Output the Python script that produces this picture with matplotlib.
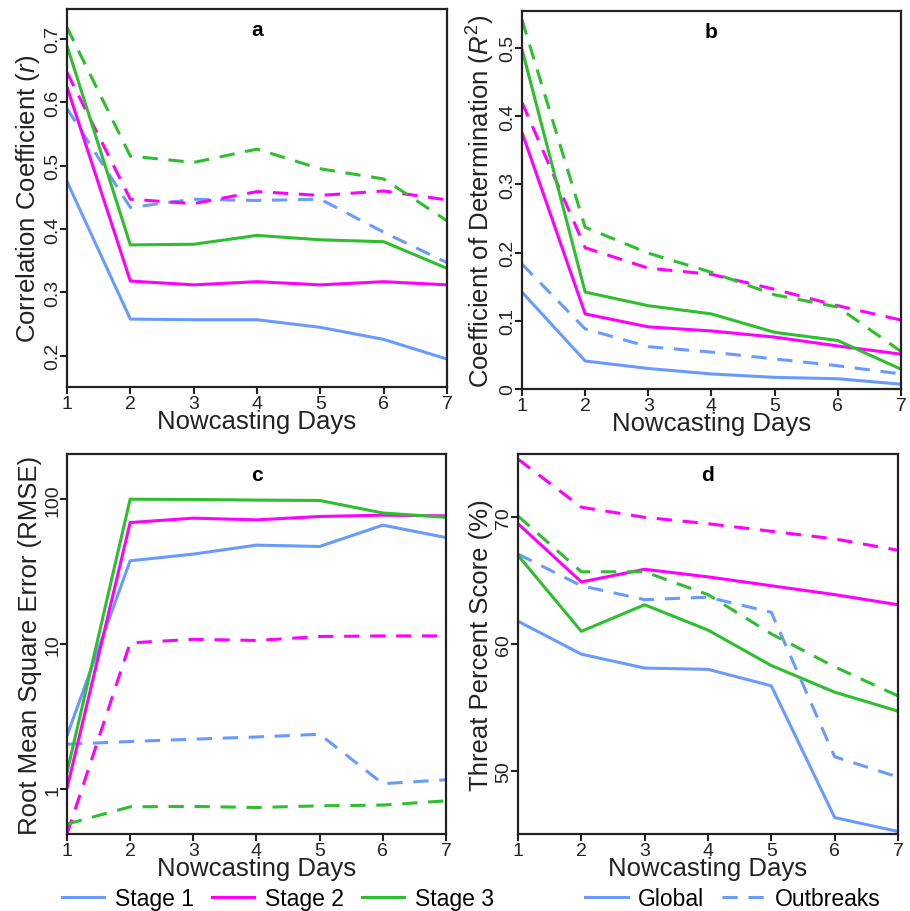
import numpy as np
import matplotlib
matplotlib.use("Agg")
import matplotlib.pyplot as plt
from matplotlib.lines import Line2D
from matplotlib.ticker import NullLocator

plt.rcParams["font.family"] = ["Liberation Sans", "DejaVu Sans"]
plt.rcParams["mathtext.fontset"] = "custom"
plt.rcParams["mathtext.rm"] = "Liberation Sans"
plt.rcParams["mathtext.it"] = "Liberation Sans:italic"

days = [1, 2, 3, 4, 5, 6, 7]
stages = ["Stage 1", "Stage 2", "Stage 3"]

# a: correlation coefficient
r_global = [
    [0.475, 0.258, 0.257, 0.257, 0.245, 0.226, 0.195],
    [0.624, 0.318, 0.312, 0.317, 0.312, 0.317, 0.312],
    [0.689, 0.375, 0.376, 0.390, 0.383, 0.380, 0.338],
]
r_outbreak = [
    [0.590, 0.434, 0.447, 0.445, 0.447, 0.395, 0.347],
    [0.647, 0.447, 0.440, 0.459, 0.453, 0.460, 0.446],
    [0.718, 0.515, 0.505, 0.526, 0.495, 0.479, 0.413],
]

# b: coefficient of determination
r2_global = [
    [0.142, 0.041, 0.030, 0.022, 0.017, 0.015, 0.007],
    [0.376, 0.110, 0.091, 0.085, 0.076, 0.063, 0.051],
    [0.498, 0.142, 0.122, 0.110, 0.083, 0.071, 0.029],
]
r2_outbreak = [
    [0.183, 0.088, 0.062, 0.054, 0.044, 0.034, 0.022],
    [0.420, 0.207, 0.177, 0.168, 0.146, 0.122, 0.101],
    [0.541, 0.237, 0.199, 0.171, 0.138, 0.120, 0.055],
]

# c: RMSE
rmse_global = [
    [2.33, 37.6, 41.8, 48.2, 47.2, 66.2, 54.4],
    [1.01, 69.0, 74.0, 72.0, 76.0, 77.6, 76.7],
    [1.30, 100.0, 99.5, 98.6, 98.0, 80.3, 75.0],
]
rmse_outbreak = [
    [2.04, 2.13, 2.21, 2.29, 2.39, 1.09, 1.16],
    [0.49, 10.2, 10.8, 10.6, 11.3, 11.4, 11.4],
    [0.574, 0.755, 0.76, 0.747, 0.767, 0.776, 0.83],
]

# d: threat percent score
tps_global = [
    [61.8, 59.2, 58.1, 58.0, 56.7, 46.3, 45.2],
    [69.5, 64.9, 65.9, 65.3, 64.6, 63.9, 63.1],
    [67.0, 61.0, 63.1, 61.1, 58.3, 56.2, 54.7],
]
tps_outbreak = [
    [67.1, 64.6, 63.5, 63.7, 62.5, 51.1, 49.5],
    [74.6, 70.8, 70.0, 69.5, 68.9, 68.3, 67.4],
    [70.1, 65.7, 65.7, 63.9, 60.8, 58.2, 55.9],
]

colors = ["#699BFF", "#FF00FF", "#2EBE2E"]
LW = 2.2
DASH = (0, (5, 3.5))

fig = plt.figure(figsize=(9.1, 9.12), dpi=100)

panels = [
    # rect, letter, global, outbreak, ylabel, ylim, yticks, ytick labels
    ([0.0736, 0.5746, 0.4176, 0.4145], "a", r_global, r_outbreak,
     "Correlation Coefficient ($\\mathit{r}$)", (0.151, 0.747),
     [0.2, 0.3, 0.4, 0.5, 0.6, 0.7], ["0.2", "0.3", "0.4", "0.5", "0.6", "0.7"]),
    ([0.5736, 0.5724, 0.4165, 0.4145], "b", r2_global, r2_outbreak,
     "Coefficient of Determination ($\\mathit{R}^{2}$)", (0.0, 0.554),
     [0, 0.1, 0.2, 0.3, 0.4, 0.5], ["0", "0.1", "0.2", "0.3", "0.4", "0.5"]),
    ([0.0736, 0.0844, 0.4165, 0.4167], "c", rmse_global, rmse_outbreak,
     "Root Mean Square Error (RMSE)", (0.49, 205),
     [1, 10, 100], ["1", "10", "100"]),
    ([0.5692, 0.0844, 0.4176, 0.4167], "d", tps_global, tps_outbreak,
     "Threat Percent Score (%)", (45, 75),
     [50, 60, 70], ["50", "60", "70"]),
]

for rect, letter, glob, outb, ylabel, ylim, yt, ytl in panels:
    ax = fig.add_axes(rect)
    if letter == "c":
        ax.set_yscale("log")
    for i in range(3):
        ax.plot(days, outb[i], color=colors[i], lw=LW, linestyle=DASH)
        ax.plot(days, glob[i], color=colors[i], lw=LW, solid_capstyle="butt")
    ax.set_xlim(1, 7)
    ax.set_ylim(*ylim)
    ax.set_xticks(days)
    ax.set_xticklabels([str(d) for d in days])
    ax.set_yticks(yt)
    ax.set_yticklabels(ytl, rotation=90, va="center")
    ax.yaxis.set_minor_locator(NullLocator())
    ax.tick_params(axis="both", direction="out", length=5, width=1.5,
                   labelsize=14, colors="#222222")
    ax.tick_params(axis="x", pad=0.5)
    ax.tick_params(axis="y", pad=-1)
    for sp in ax.spines.values():
        sp.set_linewidth(1.6)
        sp.set_color("#222222")
    ax.text(0.5, 0.945, letter, transform=ax.transAxes, ha="center", va="center",
            fontsize=15, fontweight="bold")
    ax.set_xlabel("Nowcasting Days", fontsize=18.5, color="#222222")
    ax.xaxis.set_label_coords(0.5, -0.058)
    ax.set_ylabel(ylabel, fontsize=18.5, color="#222222")
    ax.yaxis.set_label_coords(-0.066, 0.5)

stage_handles = [Line2D([], [], color=c, lw=LW) for c in colors]
fig.legend(stage_handles, stages, loc="center left", bbox_to_anchor=(0.058, 0.014),
           ncol=3, frameon=False, fontsize=16.5, handlelength=1.85,
           handletextpad=0.45, columnspacing=0.8, borderaxespad=0)

type_handles = [Line2D([], [], color=colors[0], lw=LW),
                Line2D([], [], color=colors[0], lw=LW, linestyle=DASH)]
fig.legend(type_handles, ["Global", "Outbreaks"], loc="center left",
           bbox_to_anchor=(0.633, 0.014), ncol=2, frameon=False, fontsize=16.5,
           handlelength=1.85, handletextpad=0.45, columnspacing=0.8, borderaxespad=0)

fig.savefig("out.png", dpi=100)
